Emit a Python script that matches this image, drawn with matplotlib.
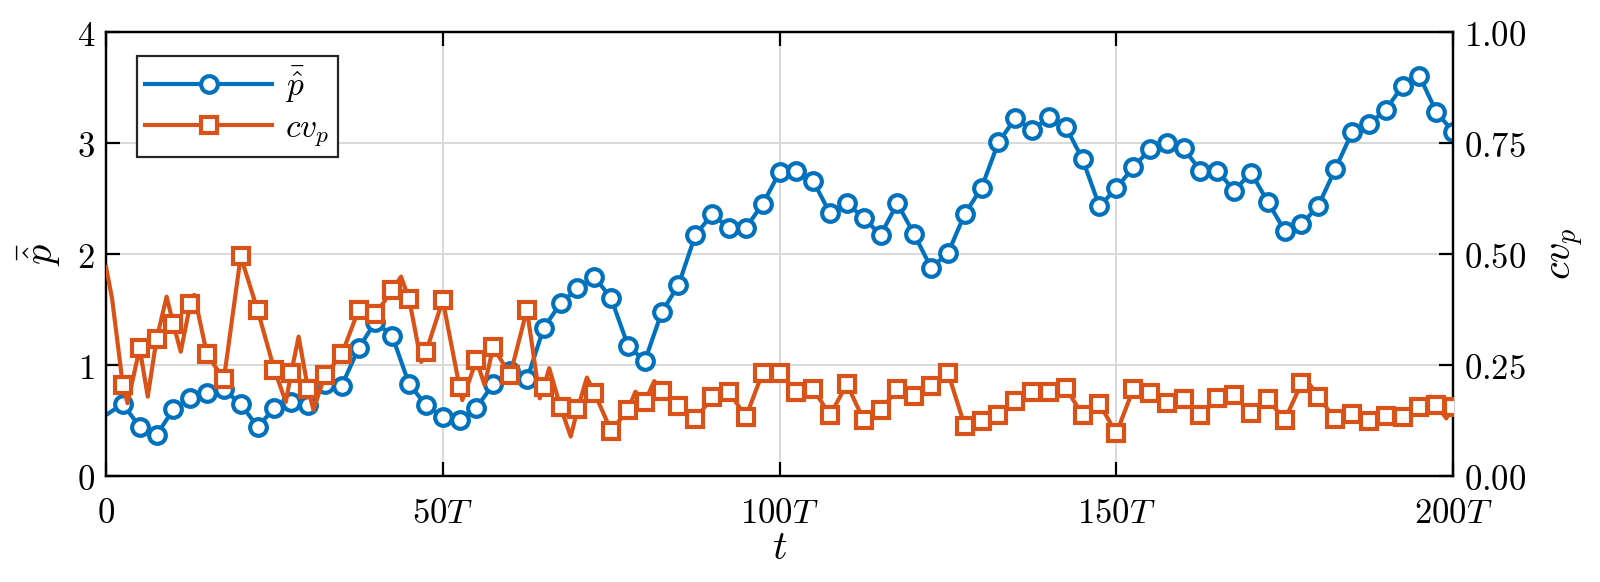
import numpy as np
import matplotlib
matplotlib.use("Agg")
import matplotlib.pyplot as plt

plt.rcParams['mathtext.fontset'] = 'cm'
plt.rcParams['font.family'] = ['DejaVu Serif']

# ---- data ----
t_step = 2.5
p_bar = [0.55,
         0.649, 0.444, 0.369, 0.601, 0.706, 0.751, 0.781, 0.649, 0.444, 0.610,
         0.670, 0.640, 0.830, 0.814, 1.150, 1.390, 1.261, 0.829, 0.640, 0.529,
         0.505, 0.616, 0.829, 0.949, 0.871, 1.336, 1.556, 1.691, 1.796, 1.601,
         1.174, 1.036, 1.475, 1.721, 2.171, 2.357, 2.237, 2.237, 2.450, 2.736,
         2.751, 2.658, 2.366, 2.456, 2.327, 2.171, 2.456, 2.177, 1.877, 2.006,
         2.360, 2.598, 3.006, 3.222, 3.117, 3.231, 3.147, 2.853, 2.430, 2.592,
         2.781, 2.943, 3.003, 2.952, 2.751, 2.751, 2.571, 2.733, 2.471, 2.210,
         2.267, 2.435, 2.763, 3.096, 3.171, 3.297, 3.516, 3.607, 3.282, 3.102]

cv_p = [0.471,
        0.205, 0.288, 0.308, 0.342, 0.387, 0.274, 0.218, 0.495, 0.374, 0.239,
        0.233, 0.196, 0.227, 0.274, 0.374, 0.364, 0.419, 0.399, 0.279, 0.396,
        0.200, 0.261, 0.291, 0.227, 0.375, 0.201, 0.155, 0.150, 0.188, 0.102,
        0.149, 0.167, 0.192, 0.158, 0.128, 0.177, 0.190, 0.133, 0.233, 0.233,
        0.190, 0.196, 0.137, 0.207, 0.126, 0.149, 0.195, 0.180, 0.203, 0.233,
        0.113, 0.124, 0.137, 0.170, 0.190, 0.190, 0.199, 0.137, 0.163, 0.096,
        0.195, 0.186, 0.164, 0.173, 0.137, 0.175, 0.182, 0.141, 0.173, 0.126,
        0.209, 0.179, 0.128, 0.140, 0.124, 0.135, 0.134, 0.156, 0.161, 0.156]

# extra points of the cv_p line between markers (local peaks / dips)
cv_extra_t = [0.9, 3.2, 6.2, 9.0, 11.1, 13.1, 26.7, 28.6, 30.8, 43.8, 46.8,
              52.9, 56.2, 64.4, 65.8, 69.0, 71.4, 78.6, 81.4, 178.3, 196.6, 199.0]
cv_extra_v = [0.40, 0.164, 0.179, 0.404, 0.280, 0.408, 0.167, 0.314, 0.149, 0.449, 0.257,
              0.171, 0.205, 0.175, 0.243, 0.089, 0.222, 0.190, 0.214, 0.215, 0.179, 0.130]

x_ticks = [0, 50, 100, 150, 200]
x_ticklabels = ['$0$', '$50T$', '$100T$', '$150T$', '$200T$']
yl_ticks = [0, 1, 2, 3, 4]
yr_ticks = [0, 0.25, 0.5, 0.75, 1.0]

blue = '#0072BD'
orange = '#D95319'

t = np.arange(len(p_bar)) * t_step
t_cv = np.concatenate([t, cv_extra_t])
v_cv = np.concatenate([cv_p, cv_extra_v])
order = np.argsort(t_cv)
t_cv, v_cv = t_cv[order], v_cv[order]

fig = plt.figure(figsize=(8.0, 2.91), dpi=200)
ax = fig.add_axes([0.06625, 0.182, 0.8419, 0.763])
ax2 = ax.twinx()

fs = 12.5
lw = 1.5
ms = 6.0

# left axis: p_bar
ax.plot(t, p_bar, color=blue, lw=lw, zorder=3)
ax.plot(t[1:], p_bar[1:], ls='none', marker='o', ms=ms, mfc='white',
        mec=blue, mew=lw, zorder=4)
# right axis: cv_p
ax2.plot(t_cv, v_cv, color=orange, lw=lw, zorder=3)
ax2.plot(t[1:], cv_p[1:], ls='none', marker='s', ms=ms, mfc='white',
         mec=orange, mew=lw, zorder=4)

ax.set_xlim(0, 200)
ax.set_ylim(0, 4)
ax2.set_ylim(0, 1)
ax.set_xticks(x_ticks)
ax.set_xticklabels(x_ticklabels, fontsize=fs)
ax.set_yticks(yl_ticks)
ax.set_yticklabels(['$%d$' % v for v in yl_ticks], fontsize=fs)
ax2.set_yticks(yr_ticks)
ax2.set_yticklabels(['$%.2f$' % v for v in yr_ticks], fontsize=fs)

ax.grid(True, color='#D9D9D9', lw=0.7)
ax.set_axisbelow(True)
ax.tick_params(axis='both', direction='in', length=5, width=0.8, pad=4)
ax.tick_params(axis='x', top=True, pad=7)
ax2.tick_params(axis='y', direction='in', length=5, width=0.8, pad=4)
for a in (ax, ax2):
    for s in a.spines.values():
        s.set_linewidth(0.8)

ax.set_xlabel('$t$', fontsize=14.5, labelpad=0)
ax.set_ylabel(r'$\bar{\hat{p}}$', fontsize=14.5, labelpad=5)
ax2.set_ylabel('$cv_p$', fontsize=14.5, labelpad=8)

h1 = plt.Line2D([], [], color=blue, lw=lw, marker='o', ms=ms, mfc='white', mec=blue, mew=lw)
h2 = plt.Line2D([], [], color=orange, lw=lw, marker='s', ms=ms, mfc='white', mec=orange, mew=lw)
leg = ax2.legend([h1, h2], [r'$\bar{\hat{p}}$', '$cv_p$'], loc='upper left',
                 bbox_to_anchor=(0.023, 0.946), fontsize=12, numpoints=1,
                 fancybox=False, framealpha=1, edgecolor='#262626',
                 handlelength=3.8, borderpad=0.25, labelspacing=0.2,
                 handletextpad=0.4, borderaxespad=0.0)
leg.get_frame().set_linewidth(0.8)

fig.savefig('out.png', dpi=200)
